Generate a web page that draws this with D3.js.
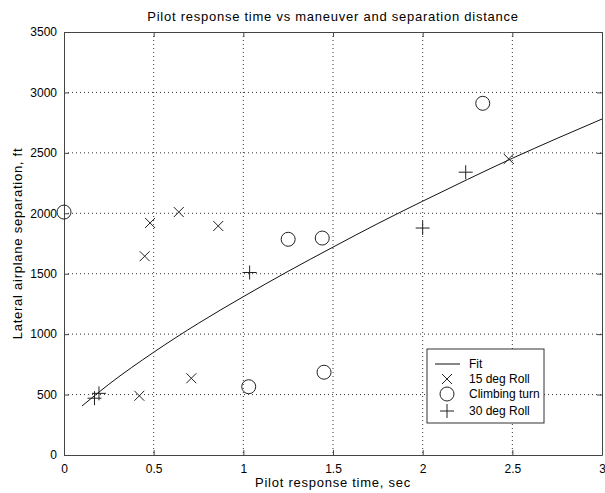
<!DOCTYPE html>
<html>
<head>
<meta charset="utf-8">
<script src="https://cdn.jsdelivr.net/npm/d3@7"></script>
<style>
  body { margin: 0; background: #fff; }
  text { font-family: "Liberation Sans", Arial, sans-serif; font-size: 12px; fill: #000; }
  .label { font-size: 13px; letter-spacing: 0.75px; }
</style>
</head>
<body>
<div id="chart"></div>
<script>
// measured samples: [response time sec, separation ft]
var roll15 = [[0.42, 490], [0.45, 1645], [0.48, 1920], [0.64, 2010], [0.86, 1895], [0.71, 635], [2.48, 2450]];
var climbing = [[0.0, 2010], [1.03, 565], [1.25, 1785], [1.44, 1795], [1.45, 685], [2.335, 2910]];
var roll30 = [[0.17, 470], [0.195, 510], [1.035, 1510], [2.0, 1878], [2.24, 2340]];
var fitLine = [[0.1, 405], [0.25, 585], [0.5, 850], [0.75, 1090], [1.0, 1310], [1.25, 1520],
               [1.5, 1720], [1.75, 1915], [2.0, 2100], [2.25, 2280], [2.5, 2455], [2.75, 2620],
               [3.0, 2780]];
var xTicks = [0, 0.5, 1, 1.5, 2, 2.5, 3];
var yTicks = [0, 500, 1000, 1500, 2000, 2500, 3000, 3500];
var legendLabels = ["Fit", "15 deg Roll", "Climbing turn", "30 deg Roll"];

var W = 605, H = 493;
var margin = { top: 32, right: 3, bottom: 38, left: 64 },
    width = W - margin.left - margin.right,
    height = H - margin.top - margin.bottom;

var svg = d3.select("#chart").append("svg")
    .attr("width", W)
    .attr("height", H);

var g = svg.append("g")
    .attr("transform", "translate(" + margin.left + "," + margin.top + ")");

var x = d3.scaleLinear().domain([0, 3]).range([0, width]);
var y = d3.scaleLinear().domain([0, 3500]).range([height, 0]);

// grid
g.append("g").selectAll("line")
  .data(xTicks.slice(1, -1))
  .enter().append("line")
    .attr("x1", function(d) { return x(d); })
    .attr("x2", function(d) { return x(d); })
    .attr("y1", 0).attr("y2", height)
    .attr("stroke", "#333").attr("stroke-width", 1)
    .attr("stroke-dasharray", "1,3");
g.append("g").selectAll("line")
  .data(yTicks.slice(1, -1))
  .enter().append("line")
    .attr("y1", function(d) { return y(d); })
    .attr("y2", function(d) { return y(d); })
    .attr("x1", 0).attr("x2", width)
    .attr("stroke", "#333").attr("stroke-width", 1)
    .attr("stroke-dasharray", "1,3");

// axes with inward ticks, labels outside
g.append("g")
  .attr("transform", "translate(0," + height + ")")
  .call(d3.axisBottom(x).tickValues(xTicks).tickSizeInner(-5).tickSizeOuter(0).tickPadding(9)
        .tickFormat(function(d) { return String(d); }));
g.append("g")
  .call(d3.axisLeft(y).tickValues(yTicks).tickSizeInner(-5).tickSizeOuter(0).tickPadding(7)
        .tickFormat(function(d) { return String(d); }));
g.append("g")
  .call(d3.axisTop(x).tickValues(xTicks).tickSizeInner(-5).tickSizeOuter(0).tickFormat(""));
g.append("g")
  .attr("transform", "translate(" + width + ",0)")
  .call(d3.axisRight(y).tickValues(yTicks).tickSizeInner(-5).tickSizeOuter(0).tickFormat(""));
g.selectAll(".domain").attr("stroke", "#444");
g.selectAll(".tick line").attr("stroke", "#444");
g.selectAll(".tick text").style("font-size", "12px").style("font-family", "Liberation Sans, Arial, sans-serif");

// fit curve
g.append("path")
  .datum(fitLine)
  .attr("fill", "none")
  .attr("stroke", "#111")
  .attr("stroke-width", 1)
  .attr("d", d3.line()
    .x(function(d) { return x(d[0]); })
    .y(function(d) { return y(d[1]); })
    .curve(d3.curveMonotoneX));

function drawX(sel, cx, cy) {
  var s = 5;
  sel.append("path")
    .attr("d", "M" + (cx - s) + "," + (cy - s) + "L" + (cx + s) + "," + (cy + s) +
               "M" + (cx - s) + "," + (cy + s) + "L" + (cx + s) + "," + (cy - s))
    .attr("stroke", "#222").attr("stroke-width", 1).attr("fill", "none");
}
function drawO(sel, cx, cy) {
  sel.append("circle")
    .attr("cx", cx).attr("cy", cy).attr("r", 7)
    .attr("stroke", "#222").attr("stroke-width", 1).attr("fill", "none");
}
function drawPlus(sel, cx, cy) {
  var s = 7;
  sel.append("path")
    .attr("d", "M" + (cx - s) + "," + cy + "L" + (cx + s) + "," + cy +
               "M" + cx + "," + (cy - s) + "L" + cx + "," + (cy + s))
    .attr("stroke", "#222").attr("stroke-width", 1).attr("fill", "none");
}

roll15.forEach(function(d) { drawX(g, x(d[0]), y(d[1])); });
climbing.forEach(function(d) { drawO(g, x(d[0]), y(d[1])); });
roll30.forEach(function(d) { drawPlus(g, x(d[0]), y(d[1])); });

// legend
var lx = 427, ly = 349, lw = 117, lh = 74;
var legend = svg.append("g");
legend.append("rect")
  .attr("x", lx).attr("y", ly).attr("width", lw).attr("height", lh)
  .attr("fill", "#fff").attr("stroke", "#333").attr("stroke-width", 1);
var rowY = [364, 379, 394, 411];
legend.append("line")
  .attr("x1", 435).attr("x2", 460).attr("y1", rowY[0]).attr("y2", rowY[0])
  .attr("stroke", "#111");
drawX(legend, 447, rowY[1]);
drawO(legend, 447, rowY[2]);
drawPlus(legend, 447, rowY[3]);
legend.selectAll("text.lab")
  .data(legendLabels)
  .enter().append("text")
    .attr("class", "lab")
    .attr("x", 469)
    .attr("y", function(d, i) { return rowY[i]; })
    .attr("dy", "0.35em")
    .text(function(d) { return d; });

// titles
svg.append("text")
  .attr("class", "label")
  .attr("x", margin.left + width / 2).attr("y", 21)
  .attr("text-anchor", "middle")
  .text("Pilot response time vs maneuver and separation distance");
svg.append("text")
  .attr("class", "label")
  .attr("x", margin.left + width / 2).attr("y", 487)
  .attr("text-anchor", "middle")
  .text("Pilot response time, sec");
svg.append("text")
  .attr("class", "label")
  .attr("transform", "translate(22," + (margin.top + height / 2) + ") rotate(-90)")
  .attr("text-anchor", "middle")
  .text("Lateral airplane separation, ft");
</script>
</body>
</html>
